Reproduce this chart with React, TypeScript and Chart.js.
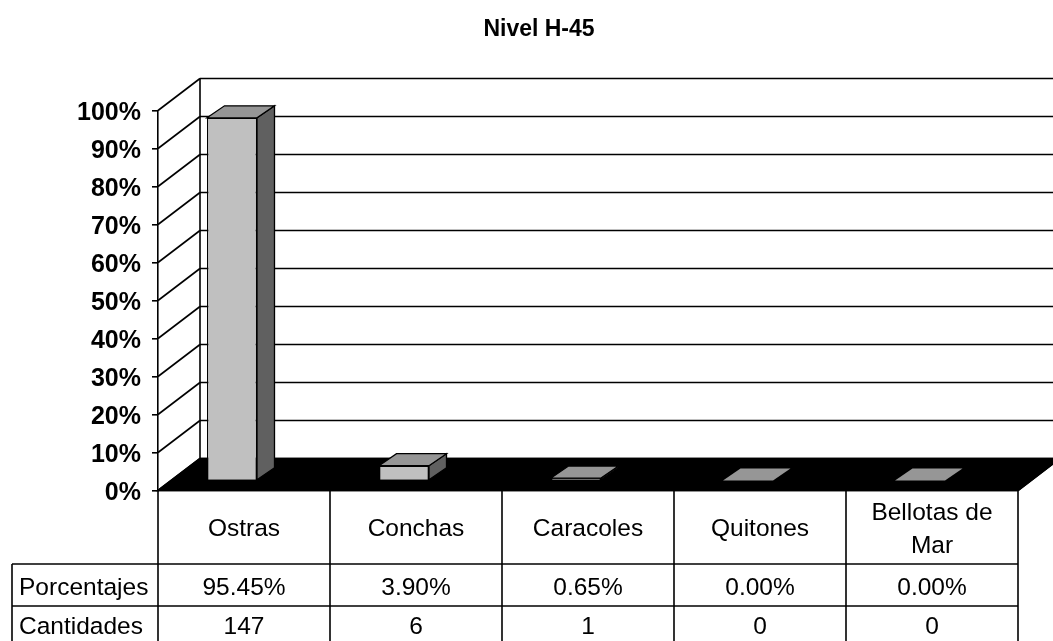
import React, { useEffect, useRef } from "react";
import { Chart, registerables } from "chart.js";

Chart.register(...registerables);

const categories = ["Ostras", "Conchas", "Caracoles", "Quitones", ["Bellotas de", "Mar"]];
const percentages = [95.45, 3.9, 0.65, 0, 0];
const percentLabels = ["95.45%", "3.90%", "0.65%", "0.00%", "0.00%"];
const quantities = ["147", "6", "1", "0", "0"];
const rowNames = ["Porcentajes", "Cantidades"];
const title = "Nivel H-45";

const FONT = '"Liberation Sans", Arial, sans-serif';
const LINE = 1.6;
const INK = "#000000";
const DEPTH = { x: 42, y: -32 };
const BAR_SHIFT = { x: -12, y: -10 };
const BAR_DEPTH = { x: 17.5, y: -12 };
const ROW_Y = [564, 606];
const TABLE_LEFT = 12;

const line = (c: CanvasRenderingContext2D, x1: number, y1: number, x2: number, y2: number) => {
  c.beginPath();
  c.moveTo(x1, y1);
  c.lineTo(x2, y2);
  c.stroke();
};

const poly = (c: CanvasRenderingContext2D, pts: number[][], fill: string, stroke = true) => {
  c.beginPath();
  pts.forEach(([x, y], i) => (i ? c.lineTo(x, y) : c.moveTo(x, y)));
  c.closePath();
  c.fillStyle = fill;
  c.fill();
  if (stroke) c.stroke();
};

const wallPlugin = {
  id: "wall3d",
  beforeDatasetsDraw(chart: any) {
    const c: CanvasRenderingContext2D = chart.ctx;
    const { left, right, bottom, top } = chart.chartArea;
    const y = chart.scales.y;
    c.save();
    c.strokeStyle = INK;
    c.lineWidth = LINE;
    y.ticks.forEach((t: any) => {
      const py = y.getPixelForValue(t.value);
      line(c, left, py, left + DEPTH.x, py + DEPTH.y);
      line(c, left + DEPTH.x, py + DEPTH.y, right + DEPTH.x, py + DEPTH.y);
    });
    line(c, left + DEPTH.x, top + DEPTH.y, left + DEPTH.x, bottom + DEPTH.y);
    poly(
      c,
      [
        [left, bottom],
        [left + DEPTH.x, bottom + DEPTH.y],
        [right + DEPTH.x, bottom + DEPTH.y],
        [right, bottom],
      ],
      "#000000"
    );
    c.restore();
  },
  beforeDatasetDraw(chart: any) {
    chart.ctx.save();
    chart.ctx.translate(BAR_SHIFT.x, BAR_SHIFT.y);
  },
  afterDatasetDraw(chart: any, args: any) {
    const c: CanvasRenderingContext2D = chart.ctx;
    c.strokeStyle = INK;
    c.lineWidth = 1.3;
    args.meta.data.forEach((bar: any) => {
      const p = bar.getProps(["x", "y", "base", "width"], true);
      const l = p.x - p.width / 2;
      const r = p.x + p.width / 2;
      const dx = BAR_DEPTH.x;
      const dy = BAR_DEPTH.y;
      const tall = Math.abs(p.base - p.y) > 0.01;
      if (tall) {
        poly(c, [[r, p.y], [r + dx, p.y + dy], [r + dx, p.base + dy], [r, p.base]], "#606060");
      }
      poly(c, [[l, p.y], [l + dx, p.y + dy], [r + dx, p.y + dy], [r, p.y]], "#969696", tall);
    });
    c.restore();
  },
  afterDraw(chart: any) {
    const c: CanvasRenderingContext2D = chart.ctx;
    const { left, right, bottom } = chart.chartArea;
    const x = chart.scales.x;
    const h = chart.height;
    c.save();
    c.strokeStyle = INK;
    c.lineWidth = LINE;
    c.fillStyle = INK;
    line(c, right, bottom, right + DEPTH.x, bottom + DEPTH.y);
    line(c, left, bottom, right, bottom);
    const colW = (right - left) / categories.length;
    categories.forEach((_, i) => {
      const cx = x.getPixelForValue(i);
      line(c, cx + colW / 2, bottom, cx + colW / 2, h);
    });
    line(c, left, bottom, left, h);
    line(c, TABLE_LEFT, ROW_Y[0], TABLE_LEFT, h);
    ROW_Y.forEach((ry) => line(c, TABLE_LEFT, ry, right, ry));
    c.font = `24.5px ${FONT}`;
    c.textBaseline = "middle";
    c.textAlign = "center";
    percentLabels.forEach((s, i) => c.fillText(s, x.getPixelForValue(i), 588));
    quantities.forEach((s, i) => c.fillText(s, x.getPixelForValue(i), 627));
    c.textAlign = "left";
    c.fillText(rowNames[0], 19, 588);
    c.fillText(rowNames[1], 19, 627);
    c.restore();
  },
};

export default function App() {
  const ref = useRef<HTMLCanvasElement>(null);
  useEffect(() => {
    const chart = new Chart(ref.current!, {
      type: "bar",
      data: {
        labels: categories as any,
        datasets: [
          {
            data: percentages,
            backgroundColor: "#C0C0C0",
            borderColor: "#000000",
            borderWidth: 1.3,
            barPercentage: 50 / 172,
            categoryPercentage: 1,
            clip: false as any,
          },
        ],
      },
      options: {
        responsive: false,
        animation: false,
        layout: { padding: { left: 60, right: 35, top: 0, bottom: 0 } },
        plugins: {
          legend: { display: false },
          tooltip: { enabled: false },
          title: {
            display: true,
            text: title,
            color: "#000",
            font: { family: FONT, size: 23, weight: "bold" },
            padding: { top: 16, bottom: 66.9 },
          },
        },
        scales: {
          y: {
            min: 0,
            max: 100,
            afterFit: (s: any) => {
              s.width = 98;
            },
            ticks: {
              stepSize: 10,
              callback: (v: any) => `${v}%`,
              color: "#000",
              padding: 11,
              labelOffset: 2.5,
              font: { family: FONT, size: 25, weight: "bold" },
            },
            grid: { drawOnChartArea: false, drawTicks: true, tickLength: 6, color: "#000", lineWidth: LINE },
            border: { display: true, color: "#000", width: LINE },
          },
          x: {
            afterFit: (s: any) => {
              s.height = 150.5;
            },
            ticks: {
              color: "#000",
              maxRotation: 0,
              autoSkip: false,
              padding: 14.5,
              crossAlign: "center",
              font: { family: FONT, size: 24.5, lineHeight: 1.35 },
            },
            grid: { display: false },
            border: { display: false },
          },
        },
      },
      plugins: [wallPlugin],
    } as any);
    return () => chart.destroy();
  }, []);
  return <canvas ref={ref} width={1053} height={641} style={{ position: "absolute", left: 0, top: 0, display: "block" }} />;
}
